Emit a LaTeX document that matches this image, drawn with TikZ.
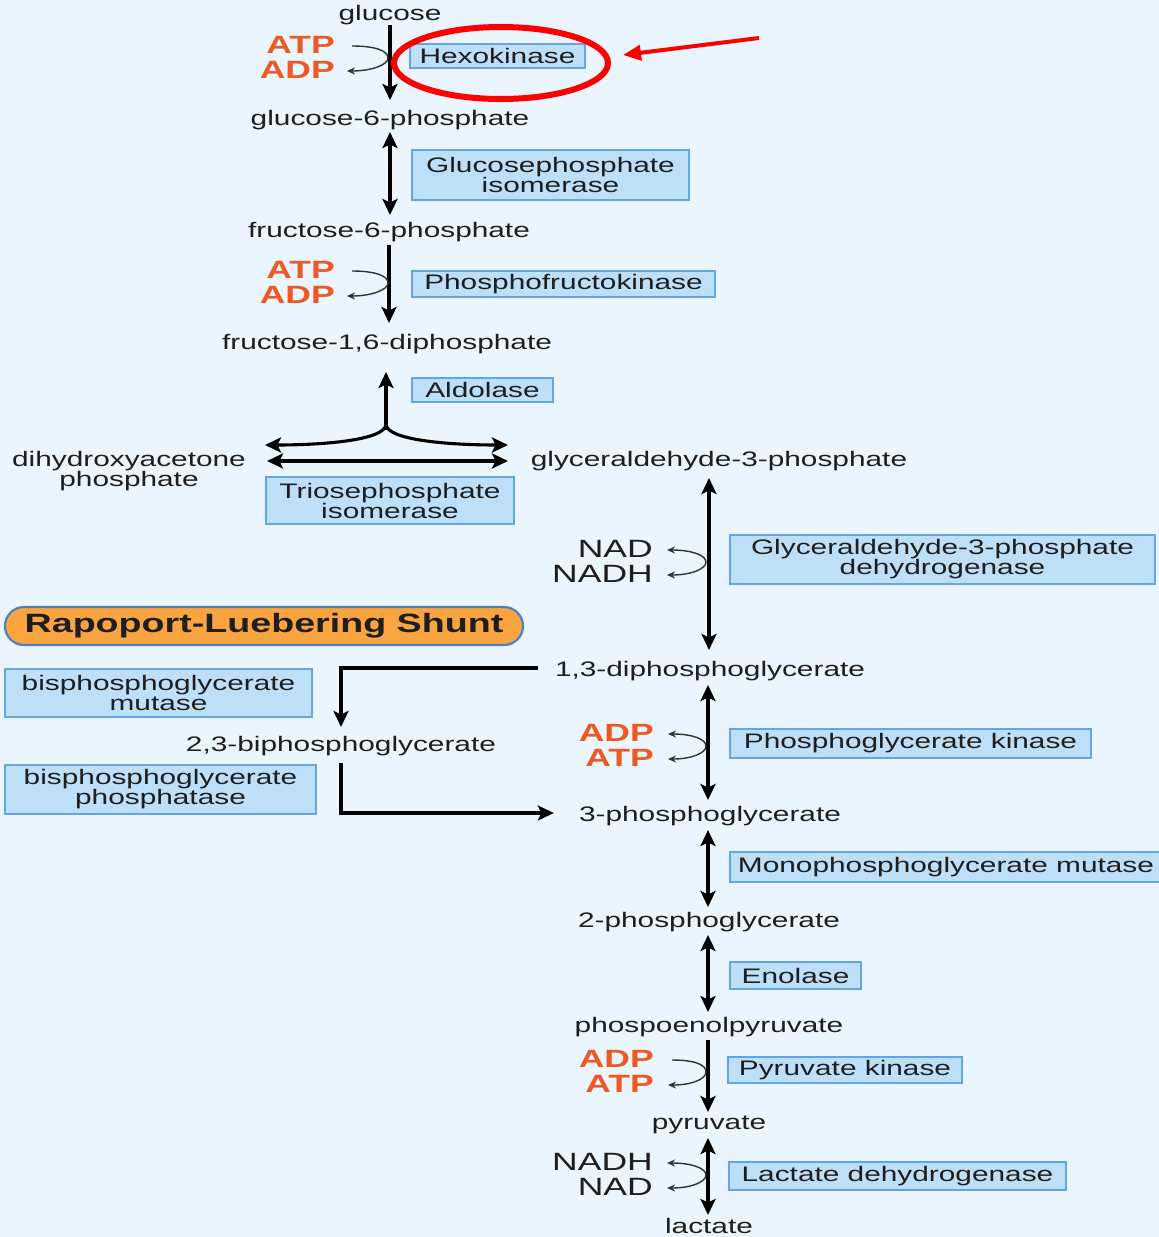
\documentclass[tikz,border=0pt]{standalone}
\usepackage{fontspec}
\usetikzlibrary{arrows.meta,calc,shapes.geometric}
\newfontfamily\wf[FakeStretch=1.42]{Liberation Sans}
\definecolor{bg}{HTML}{EBF5FD}
\definecolor{boxfill}{HTML}{BEDFF8}
\definecolor{boxline}{HTML}{62A6E6}
\definecolor{energy}{HTML}{EB5A24}
\definecolor{pillfill}{HTML}{F9A43F}
\definecolor{pillline}{HTML}{4F7FC4}
\definecolor{thin}{HTML}{333333}
\definecolor{ink}{HTML}{1E1E1E}

\begin{document}
\begin{tikzpicture}[x=1pt,y=-1pt,
  met/.style={font=\wf\fontsize{21}{20}\selectfont, inner sep=0pt, align=center, text=ink},
  enz/.style={draw=boxline, fill=boxfill, line width=1.6pt, inner sep=0pt, align=center,
              font=\wf\fontsize{21}{20}\selectfont, text=ink},
  nrg/.style={font=\wf\bfseries\fontsize{25}{25}\selectfont, text=energy, inner sep=0pt, anchor=east},
  cof/.style={font=\wf\fontsize{25}{25}\selectfont, text=ink, inner sep=0pt, anchor=east},
  fwd/.style={line width=3.1pt, -{Stealth[length=16pt,width=15pt,inset=3.5pt]}},
  rev/.style={line width=3.1pt, {Stealth[length=16pt,width=15pt,inset=3.5pt]}-{Stealth[length=16pt,width=15pt,inset=3.5pt]}},
  side/.style={draw=thin, line width=1.4pt, -{Stealth[length=8pt,width=7pt]}},
  sidetwo/.style={draw=thin, line width=1.4pt, {Stealth[length=8pt,width=7pt]}-{Stealth[length=8pt,width=7pt]}},
]
\useasboundingbox (0,0) rectangle (1159,1237);
\fill[bg] (0,0) rectangle (1159,1237);

% ---------- metabolites, upper column ----------
\node[met] (glc)   at (390,15)  {glucose};
\node[met] (g6p)   at (390,120) {glucose-6-phosphate};
\node[met] (f6p)   at (389,232) {fructose-6-phosphate};
\node[met] (f16bp) at (387,344) {fructose-1,6-diphosphate};
\node[met] (dhap)  at (129,471) {dihydroxyacetone\\phosphate};
\node[met] (g3p)   at (719,461) {glyceraldehyde-3-phosphate};

% ---------- metabolites, lower column ----------
\node[met] (bpg13) at (710,671)  {1,3-diphosphoglycerate};
\node[met] (bpg23) at (341,746)  {2,3-biphosphoglycerate};
\node[met] (pg3)   at (710,816)  {3-phosphoglycerate};
\node[met] (pg2)   at (709,922)  {2-phosphoglycerate};
\node[met] (pep)   at (709,1027) {phospoenolpyruvate};
\node[met] (pyr)   at (709,1125) {pyruvate};
\node[met] (lac)   at (709,1226) {lactate};

% ---------- enzymes ----------
\node[enz, minimum width=175pt, minimum height=24pt] (hk)    at (497.5,56)   {Hexokinase};
\node[enz, minimum width=277pt, minimum height=50pt] (gpi)   at (550.5,175)  {Glucosephosphate\\isomerase};
\node[enz, minimum width=303pt, minimum height=26pt] (pfk)   at (563.5,284)  {Phosphofructokinase};
\node[enz, minimum width=141pt, minimum height=24pt] (ald)   at (482.5,390)  {Aldolase};
\node[enz, minimum width=248pt, minimum height=47pt] (tpi)   at (390,500.5)  {Triosephosphate\\isomerase};
\node[enz, minimum width=425pt, minimum height=49pt] (gapdh) at (942.5,559.5) {Glyceraldehyde-3-phosphate\\dehydrogenase};
\node[enz, minimum width=307pt, minimum height=48pt] (bpgm)  at (158.5,693)  {bisphosphoglycerate\\mutase};
\node[enz, minimum width=311pt, minimum height=49pt] (bpgp)  at (160.5,789.5) {bisphosphoglycerate\\phosphatase};
\node[enz, minimum width=361pt, minimum height=29pt] (pgk)   at (910.5,743.5) {Phosphoglycerate kinase};
\node[enz, minimum width=432pt, minimum height=30pt] (pgm)   at (946,867)    {Monophosphoglycerate mutase};
\node[enz, minimum width=131pt, minimum height=27pt] (eno)   at (795.5,975.5) {Enolase};
\node[enz, minimum width=234pt, minimum height=26pt] (pk)    at (845,1070)   {Pyruvate kinase};
\node[enz, minimum width=337pt, minimum height=28pt] (ldh)   at (897.5,1176) {Lactate dehydrogenase};

% ---------- shunt label ----------
\node[draw=pillline, fill=pillfill, line width=2.2pt, rounded corners=19pt,
      minimum width=518pt, minimum height=38pt, inner sep=0pt,
      font=\wf\bfseries\fontsize{26.5}{26.5}\selectfont, text=ink] (shunt) at (264,626)
      {Rapoport-Luebering Shunt};

% ---------- cofactors ----------
\node[nrg] (atp1) at (335,45)  {ATP};
\node[nrg] (adp1) at (335,70)  {ADP};
\node[nrg] (atp2) at (335,270) {ATP};
\node[nrg] (adp2) at (335,295) {ADP};
\node[cof] (nad1)  at (653,549) {NAD};
\node[cof] (nadh1) at (653,574) {NADH};
\node[nrg] (adp3) at (654,733)  {ADP};
\node[nrg] (atp3) at (654,758)  {ATP};
\node[nrg] (adp4) at (654,1059) {ADP};
\node[nrg] (atp4) at (654,1084) {ATP};
\node[cof] (nadh2) at (653,1162) {NADH};
\node[cof] (nad2)  at (653,1187) {NAD};

% ---------- main pathway arrows ----------
\draw[fwd] ($(glc)+(0,10)$)   -- ($(g6p)+(0,-20)$);
\draw[rev] ($(g6p)+(0,12)$)   -- ($(g6p)+(0,95)$);
\draw[fwd] ($(f6p)+(0,13)$)   -- ($(f16bp)+(2,-21)$);

% aldolase split
\coordinate (split) at (386,424);
\coordinate (triL) at (265,445);
\coordinate (triR) at (508,445);
\coordinate (isoL) at (267,461);
\coordinate (isoR) at (508,461);
\draw[fwd] ($(split)+(0,6)$) -- (split |- {$(f16bp)+(0,28)$});
\draw[fwd] (split) .. controls +(0,16) and +(60,0) .. (triL);
\draw[fwd] (split) .. controls +(0,16) and +(-60,0) .. (triR);
\draw[rev] (isoL) -- (isoR);

\draw[rev] ($(g3p.center -| bpg13)+(-1,17)$) -- ($(bpg13)+(-1,-21)$);
\draw[rev] ($(bpg13)+(-2,14)$) -- ($(pg3)+(-2,-16)$);
\draw[rev] ($(pg3)+(-2,14)$)   -- ($(pg2)+(-1,-15)$);
\draw[rev] ($(pg2)+(-1,13)$)   -- ($(pep)+(-1,-15)$);
\draw[fwd] ($(pep)+(-1,13)$)   -- ($(pyr)+(-1,-13)$);
\draw[rev] ($(pyr)+(-1,13)$)   -- ($(lac)+(-1,-11)$);

% ---------- shunt arrows ----------
\draw[fwd] ($(bpg13.west)+(-17,-3)$) -| ($(bpg23)+(0,-19)$);
\draw[fwd] ($(bpg23)+(0,17)$) |- ($(pg3.west)+(-25,-3)$);

% ---------- cofactor curves ----------
\coordinate (j1) at (388,58);
\coordinate (j2) at (388,283);
\coordinate (j3) at (706,562);
\coordinate (j4) at (706,746);
\coordinate (j5) at (706,1072);
\coordinate (j6) at (706,1175);
\draw[side] ($(atp1.east)+(17,1)$) .. controls +(24,0) and +(0,-7) .. (j1)
            .. controls +(0,7) and +(24,0) .. ($(adp1.east)+(12,1)$);
\draw[side] ($(atp2.east)+(17,1)$) .. controls +(24,0) and +(0,-7) .. (j2)
            .. controls +(0,7) and +(24,0) .. ($(adp2.east)+(12,1)$);
\draw[sidetwo] ($(nad1.east)+(14,1)$) .. controls +(24,0) and +(0,-7) .. (j3)
            .. controls +(0,7) and +(24,0) .. ($(nadh1.east)+(14,1)$);
\draw[sidetwo] ($(adp3.east)+(14,1)$) .. controls +(24,0) and +(0,-7) .. (j4)
            .. controls +(0,7) and +(24,0) .. ($(atp3.east)+(14,1)$);
\draw[side] ($(adp4.east)+(18,1)$) .. controls +(24,0) and +(0,-7) .. (j5)
            .. controls +(0,7) and +(24,0) .. ($(atp4.east)+(14,1)$);
\draw[sidetwo] ($(nadh2.east)+(14,1)$) .. controls +(24,0) and +(0,-7) .. (j6)
            .. controls +(0,7) and +(24,0) .. ($(nad2.east)+(14,1)$);

% ---------- highlight ring and pointer ----------
\node[draw=red, ellipse, line width=6pt, minimum width=214pt, minimum height=72pt] (ring) at (501,63) {};
\coordinate (ptrA) at (759,38);
\coordinate (ptrB) at (623,55);
\draw[red, line width=4pt, -{Triangle[length=18pt,width=15pt]}] (ptrA) -- (ptrB);
\end{tikzpicture}
\end{document}
